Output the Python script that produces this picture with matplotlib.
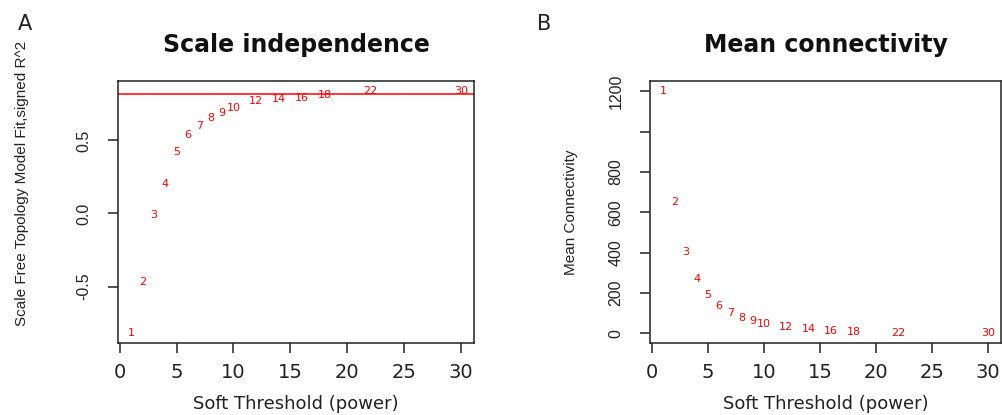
import matplotlib
matplotlib.use('Agg')
import matplotlib.pyplot as plt
from matplotlib import font_manager

# soft-threshold powers and the two WGCNA fit summaries
powers = [1, 2, 3, 4, 5, 6, 7, 8, 9, 10, 12, 14, 16, 18, 22, 30]
signed_r2 = [-0.82, -0.47, -0.01, 0.20, 0.42, 0.54, 0.60, 0.65, 0.69, 0.72,
             0.77, 0.78, 0.79, 0.81, 0.84, 0.84]
mean_k = [1203, 652, 406, 270, 191, 138, 100, 78, 63, 45, 30, 20, 13, 8, 2, 1]
r2_cutoff = 0.82

x_ticks = [0, 5, 10, 15, 20, 25, 30]
r2_ticks = [-0.5, 0.0, 0.5]
r2_ticklabels = ['-0.5', '0.0', '0.5']
k_ticks = [0, 200, 400, 600, 800, 1000, 1200]
k_ticklabels = ['0', '200', '400', '600', '800', '', '1200']

plt.rcParams['axes.unicode_minus'] = False

# narrow face for the rotated (vertical) text, as in the squashed original
names = {f.name for f in font_manager.fontManager.ttflist}
narrow = 'Liberation Sans Narrow' if 'Liberation Sans Narrow' in names else 'Liberation Sans'
wide = 'DejaVu Sans'
ink = '#222222'

W, H = 1003, 415
fig = plt.figure(figsize=(W / 100, H / 100), dpi=100)


def r_limits(vals):
    lo, hi = min(vals), max(vals)
    pad = 0.04 * (hi - lo)
    return lo - pad, hi + pad


def style_panel(ax, title, ylabel, yticks, yticklabels, ylab_pos):
    ax.set_xlim(*r_limits(powers))
    ax.set_xticks(x_ticks)
    ax.set_xticklabels([str(t) for t in x_ticks], family=wide, fontsize=14, color=ink)
    ax.set_yticks(yticks)
    ax.set_yticklabels(yticklabels, family=narrow, fontsize=11.5, color=ink,
                       rotation=90, va='center')
    ax.tick_params(axis='both', direction='out', length=7.2, width=1.1, color='#222222')
    ax.tick_params(axis='x', pad=7)
    ax.tick_params(axis='y', pad=12)
    for s in ax.spines.values():
        s.set_linewidth(1.1)
        s.set_color('#222222')
    ax.set_xlabel('Soft Threshold (power)', family=wide, fontsize=13, color=ink)
    ax.xaxis.set_label_coords(0.5, -0.2)
    ax.set_ylabel(ylabel, family=narrow, fontsize=11, color=ink)
    ax.yaxis.set_label_coords(*ylab_pos)
    ax.text(0.5, 1.137, title, transform=ax.transAxes, ha='center', va='center',
            family=wide, fontsize=17, fontweight='bold', color='#111111')


# A: scale independence
axA = fig.add_axes([118 / W, 1 - 343 / H, 356 / W, 262 / H])
axA.set_ylim(*r_limits(signed_r2))
for p, v in zip(powers, signed_r2):
    axA.text(p, v, str(p), color='red', fontsize=8, ha='center', va='center', family=wide)
axA.axhline(r2_cutoff, color='red', lw=1.1)
style_panel(axA, 'Scale independence', 'Scale Free Topology Model Fit,signed R^2',
            r2_ticks, r2_ticklabels, (-0.25, 0.61))

# B: mean connectivity (box reaches the right edge of the canvas)
axB = fig.add_axes([650 / W, 1 - 343 / H, 351 / W, 262 / H])
axB.set_ylim(*r_limits(mean_k))
for p, v in zip(powers, mean_k):
    axB.text(p, v, str(p), color='red', fontsize=8, ha='center', va='center', family=wide)
style_panel(axB, 'Mean connectivity', 'Mean Connectivity',
            k_ticks, k_ticklabels, (-0.205, 0.5))

fig.text(25 / W, 1 - 24 / H, 'A', ha='center', va='center', family=wide, fontsize=15, color=ink)
fig.text(544 / W, 1 - 24 / H, 'B', ha='center', va='center', family=wide, fontsize=15, color=ink)

fig.savefig('out.png', dpi=100)
